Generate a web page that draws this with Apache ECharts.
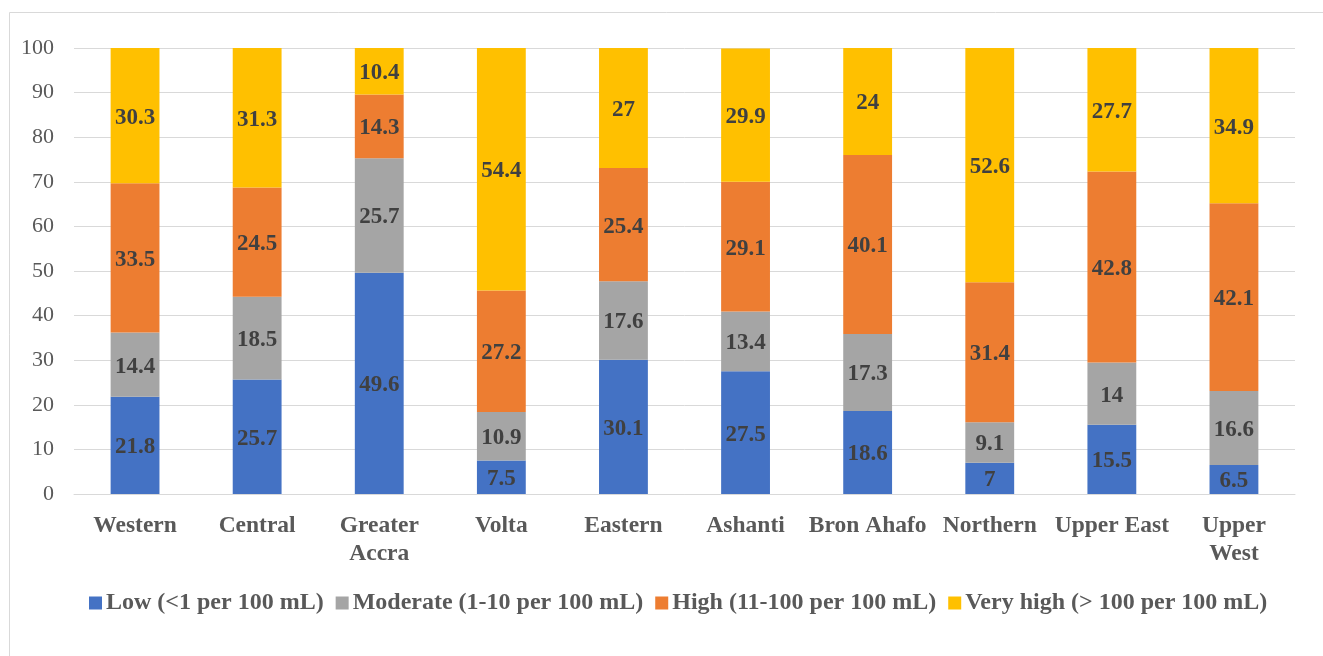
<!DOCTYPE html>
<html>
<head>
<meta charset="utf-8">
<script src="https://cdn.jsdelivr.net/npm/echarts@6/dist/echarts.min.js"></script>
<style>
  html, body { margin: 0; padding: 0; background: #ffffff; }
  #chart { width: 1323px; height: 656px; }
</style>
</head>
<body>
<div id="chart"></div>
<script>
// Regions of Ghana
const regions = ['Western', 'Central', 'Greater\nAccra', 'Volta', 'Eastern', 'Ashanti', 'Bron Ahafo', 'Northern', 'Upper East', 'Upper\nWest'];

// Share of samples (%) in each contamination level
const low      = [21.8, 25.7, 49.6, 7.5, 30.1, 27.5, 18.6, 7, 15.5, 6.5];
const moderate = [14.4, 18.5, 25.7, 10.9, 17.6, 13.4, 17.3, 9.1, 14, 16.6];
const high     = [33.5, 24.5, 14.3, 27.2, 25.4, 29.1, 40.1, 31.4, 42.8, 42.1];
const veryHigh = [30.3, 31.3, 10.4, 54.4, 27, 29.9, 24, 52.6, 27.7, 34.9];

const seriesNames = ['Low (<1 per 100 mL)', 'Moderate (1-10 per 100 mL)', 'High (11-100 per 100 mL)', 'Very high (> 100 per 100 mL)'];
const seriesColors = ['#4472C4', '#A5A5A5', '#ED7D31', '#FFC000'];
const seriesData = [low, moderate, high, veryHigh];

const FONT = '"Liberation Serif", "Times New Roman", serif';

const chart = echarts.init(document.getElementById('chart'), null, { renderer: 'canvas' });

chart.setOption({
  animation: false,
  backgroundColor: '#ffffff',
  textStyle: { fontFamily: FONT },
  graphic: [{
    type: 'rect',
    shape: { x: 9.5, y: 12.5, width: 1320, height: 660 },
    style: { fill: 'none', stroke: '#d9d9d9', lineWidth: 1 },
    silent: true
  }],
  grid: { left: 74, right: 28, top: 48, bottom: 162, containLabel: false },
  legend: {
    left: 84,
    top: 586,
    itemWidth: 13,
    itemHeight: 13,
    itemGap: 12,
    icon: 'rect',
    textStyle: { fontFamily: FONT, fontWeight: 'bold', fontSize: 24, color: '#595959', padding: [0, 0, 0, -1] },
    data: seriesNames
  },
  xAxis: {
    type: 'category',
    data: regions,
    axisLine: { show: true, lineStyle: { color: '#d9d9d9', width: 1 } },
    axisTick: { show: false },
    axisLabel: {
      interval: 0,
      margin: 18,
      fontFamily: FONT,
      fontWeight: 'bold',
      fontSize: 23.5,
      lineHeight: 28,
      color: '#595959'
    }
  },
  yAxis: {
    type: 'value',
    min: 0,
    max: 100,
    interval: 10,
    axisLine: { show: false },
    axisTick: { show: false },
    splitLine: { lineStyle: { color: '#d9d9d9', width: 1 } },
    axisLabel: { margin: 20, fontFamily: FONT, fontSize: 22, color: '#595959' }
  },
  series: seriesNames.map((name, i) => ({
    name: name,
    type: 'bar',
    stack: 'total',
    barWidth: '40%',
    data: seriesData[i],
    itemStyle: { color: seriesColors[i] },
    label: {
      show: true,
      position: 'inside',
      offset: [0, 2],
      fontFamily: FONT,
      fontWeight: 'bold',
      fontSize: 23,
      color: '#404040'
    }
  }))
});
</script>
</body>
</html>
